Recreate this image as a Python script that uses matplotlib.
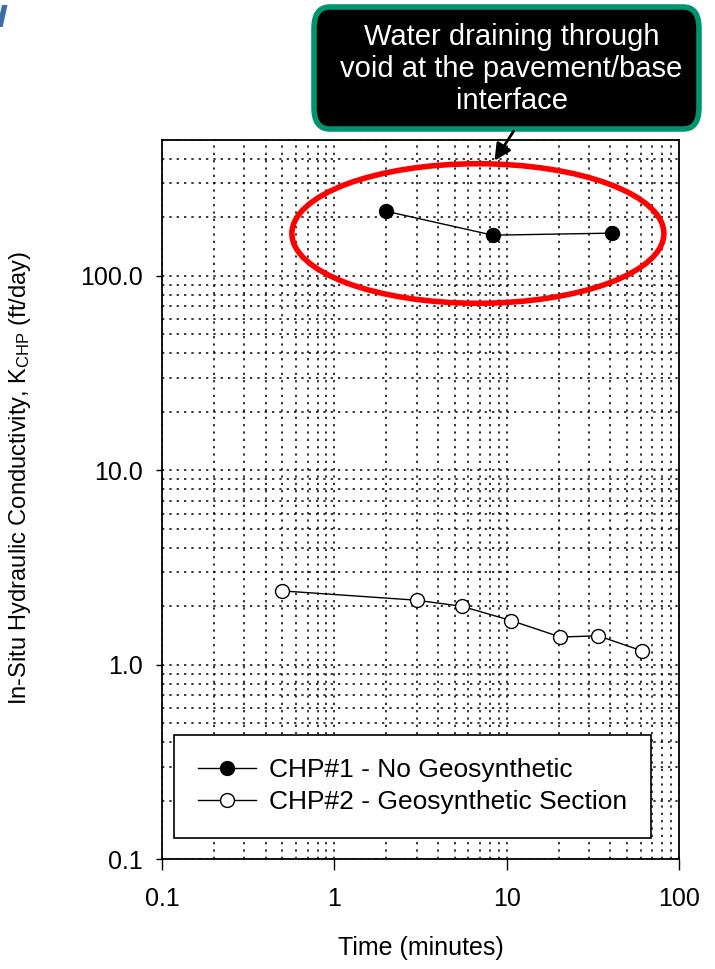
import matplotlib
matplotlib.use("Agg")
import matplotlib.pyplot as plt
from matplotlib.patches import Ellipse, FancyBboxPatch, Polygon, FancyArrowPatch
from matplotlib.ticker import FixedLocator, FixedFormatter, LogLocator, NullFormatter

plt.rcParams['font.family'] = ['Liberation Sans', 'DejaVu Sans']
plt.rcParams['mathtext.fontset'] = 'custom'
plt.rcParams['mathtext.rm'] = 'Liberation Sans'
plt.rcParams['mathtext.it'] = 'Liberation Sans:italic'

# Falling-head permeameter results
time_chp1 = [2.0, 8.3, 41.0]
k_chp1 = [215.0, 162.0, 166.0]

time_chp2 = [0.5, 3.0, 5.5, 10.6, 20.5, 34.0, 61.0]
k_chp2 = [2.40, 2.15, 2.00, 1.69, 1.39, 1.41, 1.18]

x_ticks = [0.1, 1, 10, 100]
x_tick_labels = ["0.1", "1", "10", "100"]
y_ticks = [0.1, 1, 10, 100]
y_tick_labels = ["0.1", "1.0", "10.0", "100.0"]

label_chp1 = "CHP#1 - No Geosynthetic"
label_chp2 = "CHP#2 - Geosynthetic Section"
callout_text = "Water draining through\nvoid at the pavement/base\ninterface"

W, H = 715, 969
fig = plt.figure(figsize=(W / 100, H / 100), dpi=100)
ax = fig.add_axes([162 / W, 1 - 859.3 / H, (679 - 162) / W, (859.3 - 140) / H])

ax.set_xscale('log')
ax.set_yscale('log')
ax.set_xlim(0.1, 100)
ax.set_ylim(0.1, 500)

ax.plot(time_chp1, k_chp1, '-o', color='black', lw=1.0, ms=10,
        mfc='black', mec='black', label=label_chp1, zorder=5)
ax.plot(time_chp2, k_chp2, '-o', color='black', lw=1.0, ms=10,
        mfc='white', mec='black', mew=1.0, label=label_chp2, zorder=5)

ax.xaxis.set_major_locator(FixedLocator(x_ticks))
ax.xaxis.set_major_formatter(FixedFormatter(x_tick_labels))
ax.yaxis.set_major_locator(FixedLocator(y_ticks))
ax.yaxis.set_major_formatter(FixedFormatter(y_tick_labels))
ax.xaxis.set_minor_locator(LogLocator(base=10, subs=range(2, 10)))
ax.yaxis.set_minor_locator(LogLocator(base=10, subs=range(2, 10)))
ax.xaxis.set_minor_formatter(NullFormatter())
ax.yaxis.set_minor_formatter(NullFormatter())

ax.grid(True, which='both', color='black', linestyle=(0, (1.5, 3.3)), lw=1.1)
ax.tick_params(axis='x', which='major', direction='out', length=8, width=1.0,
               labelsize=18, pad=12)
ax.tick_params(axis='y', which='major', direction='out', length=4, width=1.0,
               labelsize=18, pad=10)
ax.tick_params(which='minor', length=0)
for s in ax.spines.values():
    s.set_linewidth(1.3)

ax.set_xlabel("Time (minutes)", fontsize=18, labelpad=18)
ax.set_ylabel(r"In-Situ Hydraulic Conductivity, K$_{\mathrm{CHP}}$ (ft/day)",
              fontsize=17)
ax.yaxis.set_label_coords(-0.2495, 0.530)

leg = ax.legend(loc='lower left', bbox_to_anchor=(0.023, 0.0296), fontsize=19,
                frameon=True, fancybox=False, edgecolor='black', framealpha=1,
                handlelength=2.2, handletextpad=0.5, borderpad=0.9,
                labelspacing=0.3, borderaxespad=0)
leg.get_frame().set_linewidth(1.2)

# Highlight of the high-conductivity readings
ell = Ellipse((0.611, 0.870), 0.7195, 0.194, transform=ax.transAxes,
              fill=False, edgecolor='#ff0000', lw=4.0, clip_on=False, zorder=6)
ax.add_patch(ell)

# Callout box
bx0, by0, bx1, by1 = 314 / W, 1 - 129 / H, 699 / W, 1 - 7 / H
box = FancyBboxPatch((bx0, by0), bx1 - bx0, by1 - by0,
                     boxstyle="round,pad=0,rounding_size=0.022",
                     transform=fig.transFigure, facecolor='black',
                     edgecolor='#00946f', lw=4.0, zorder=10)
fig.add_artist(box)
fig.text((bx0 + bx1) / 2 + 5 / W, 1 - 69 / H, callout_text,
         color='white', fontsize=21, ha='center', va='center',
         linespacing=1.17, zorder=11)

fig.add_artist(FancyArrowPatch(
    (515 / W, 1 - 129 / H), (493 / W, 1 - 163 / H), transform=fig.transFigure,
    arrowstyle='-|>,head_length=10,head_width=5', mutation_scale=1,
    color='black', lw=2.0, zorder=12))

# Stray logo fragment at the top-left
fig.add_artist(Polygon([(2 / W, 1 - 5 / H), (7.5 / W, 1 - 5 / H),
                        (2.7 / W, 1 - 27 / H), (-3 / W, 1 - 27 / H)],
                       closed=True, transform=fig.transFigure,
                       facecolor='#3a6ea8', edgecolor='none'))

fig.savefig("out.png", dpi=100)
